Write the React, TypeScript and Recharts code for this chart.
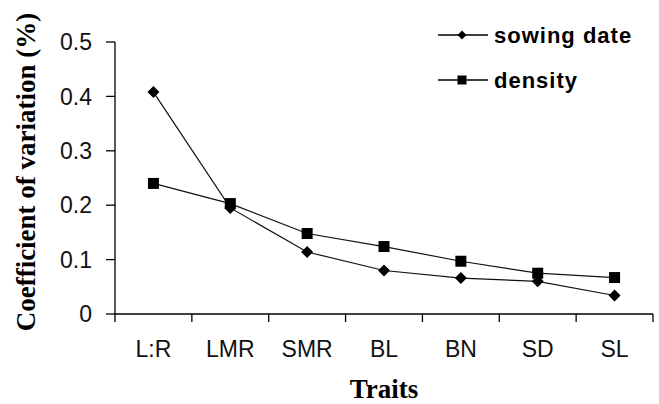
import { LineChart, Line, XAxis, YAxis } from 'recharts';

const traits = ['L:R', 'LMR', 'SMR', 'BL', 'BN', 'SD', 'SL'];
const sowingDate = [0.408, 0.195, 0.114, 0.08, 0.066, 0.06, 0.034];
const density = [0.24, 0.203, 0.148, 0.124, 0.097, 0.075, 0.067];
const yTicks = [0, 0.1, 0.2, 0.3, 0.4, 0.5];

const data = traits.map((t, i) => ({ trait: t, sowing: sowingDate[i], density: density[i] }));

const sansFont = '"Liberation Sans", Arial, sans-serif';
const serifFont = '"Liberation Serif", "Times New Roman", serif';

const CHART_W = 659;
const CHART_H = 404;
const PLOT_LEFT = 115;
const PLOT_RIGHT = 6;
const HALF_BAND = (CHART_W - PLOT_LEFT - PLOT_RIGHT) / traits.length / 2;

const Diamond = (props: any) => {
  const { cx, cy, index, size = 6 } = props;
  if (cx == null || cy == null) return <g key={`d-${index}`} />;
  return (
    <path
      key={`d-${index}`}
      d={`M${cx},${cy - size} L${cx + size},${cy} L${cx},${cy + size} L${cx - size},${cy} Z`}
      fill="#000"
    />
  );
};

const Square = (props: any) => {
  const { cx, cy, index, size = 5.5 } = props;
  if (cx == null || cy == null) return <g key={`s-${index}`} />;
  return <rect key={`s-${index}`} x={cx - size} y={cy - size} width={size * 2} height={size * 2} fill="#000" />;
};

// category labels sit at band centres, tick marks on the band edges
const TraitTick = (props: any) => {
  const { x, y, payload, index } = props;
  return (
    <g>
      <line x1={x - HALF_BAND} y1={y} x2={x - HALF_BAND} y2={y + 8} stroke="#000" strokeWidth={1.3} />
      {index === traits.length - 1 && (
        <line x1={x + HALF_BAND} y1={y} x2={x + HALF_BAND} y2={y + 8} stroke="#000" strokeWidth={1.3} />
      )}
      <text x={x} y={y + 27} dy="0.71em" textAnchor="middle" fill="#111" fontSize={23} fontFamily={sansFont}>
        {payload.value}
      </text>
    </g>
  );
};

const LegendBox = () => (
  <svg width={229} height={90} style={{ position: 'absolute', left: 430, top: 15 }}>
    <line x1={8} y1={20} x2={58} y2={20} stroke="#000" strokeWidth={1.3} />
    <Diamond cx={32} cy={20} index={0} size={4.5} />
    <text x={64} y={20} dominantBaseline="central" fontSize={22} fontWeight="bold" letterSpacing={1} fontFamily={sansFont}>
      sowing date
    </text>
    <line x1={8} y1={65} x2={58} y2={65} stroke="#000" strokeWidth={1.3} />
    <Square cx={32} cy={65} index={1} size={4.5} />
    <text x={64} y={65} dominantBaseline="central" fontSize={22} fontWeight="bold" letterSpacing={1} fontFamily={sansFont}>
      density
    </text>
  </svg>
);

export default function App() {
  return (
    <div style={{ position: 'absolute', left: 0, top: 0, width: CHART_W, height: CHART_H, background: '#fff' }}>
      <LineChart
        width={CHART_W}
        height={CHART_H}
        data={data}
        margin={{ top: 42, right: PLOT_RIGHT, left: 0, bottom: 0 }}
      >
        <XAxis
          dataKey="trait"
          height={90}
          padding={{ left: HALF_BAND, right: HALF_BAND }}
          tickLine={false}
          tickSize={0}
          tickMargin={0}
          interval={0}
          stroke="#000"
          strokeWidth={1.3}
          tick={<TraitTick />}
          label={{
            content: ({ viewBox }: any) => (
              <text
                x={viewBox.x + viewBox.width / 2}
                y={398}
                textAnchor="middle"
                fontSize={27}
                fontWeight="bold"
                fontFamily={serifFont}
                fill="#000"
              >
                Traits
              </text>
            ),
          }}
        />
        <YAxis
          width={PLOT_LEFT}
          domain={[0, 0.5]}
          ticks={yTicks}
          tickSize={9}
          tickMargin={14}
          stroke="#000"
          strokeWidth={1.3}
          tick={{ fill: '#111', fontSize: 23, fontFamily: sansFont }}
          tickFormatter={(v: number) => (v === 0 ? '0' : String(v))}
          label={{
            content: () => (
              <text
                x={26}
                y={172}
                transform="rotate(-90 26 172)"
                textAnchor="middle"
                dominantBaseline="central"
                fontSize={27}
                fontWeight="bold"
                fontFamily={serifFont}
                fill="#000"
              >
                Coefficient of variation (%)
              </text>
            ),
          }}
        />
        <Line
          dataKey="sowing"
          name="sowing date"
          stroke="#111"
          strokeWidth={1.2}
          dot={<Diamond />}
          activeDot={false}
          isAnimationActive={false}
        />
        <Line
          dataKey="density"
          name="density"
          stroke="#111"
          strokeWidth={1.2}
          dot={<Square />}
          activeDot={false}
          isAnimationActive={false}
        />
      </LineChart>
      <LegendBox />
    </div>
  );
}
